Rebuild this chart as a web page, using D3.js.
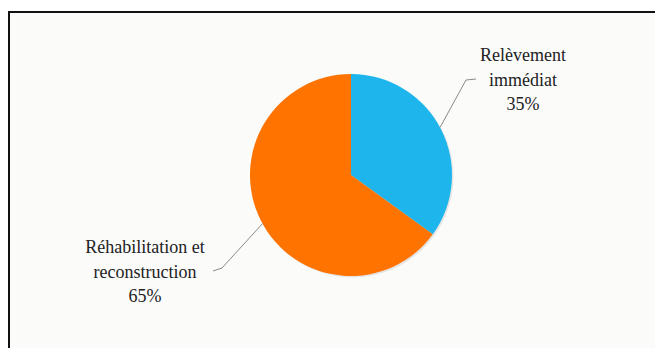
<!DOCTYPE html>
<html><head><meta charset="utf-8">
<script src="https://cdn.jsdelivr.net/npm/d3@7"></script>
<style>html,body{margin:0;padding:0;background:#fff;}svg{display:block;}</style>
</head><body>
<svg id="c" width="655" height="348"></svg>
<script>
const categories = ["Relèvement immédiat", "Réhabilitation et reconstruction"];
const values = [35, 65];
const labelLines = [["Relèvement", "immédiat", "35%"], ["Réhabilitation et", "reconstruction", "65%"]];
const colors = ["#1DB5EC", "#FF7300"];

const svg = d3.select("#c");
svg.append("rect").attr("x", 0).attr("y", 0).attr("width", 655).attr("height", 348).attr("fill", "#fff");
svg.append("rect").attr("x", 9).attr("y", 12).attr("width", 660).attr("height", 350)
  .attr("fill", "#fbfbfa").attr("stroke", "#111").attr("stroke-width", 2);

const cx = 351, cy = 175, r = 101;
const pie = d3.pie().sort(null).value(d => d)(values);
const arc = d3.arc().innerRadius(0).outerRadius(r);
const g = svg.append("g").attr("transform", `translate(${cx},${cy})`);
g.append("circle").attr("r", r).attr("cx", 1.5).attr("cy", 1.5).attr("fill", "#d8d8d8").attr("opacity", 0.6);
g.selectAll("path.s").data(pie).enter().append("path").attr("class", "s")
  .attr("d", arc).attr("fill", (d, i) => colors[i]);

// leader lines
const pt = a => [cx + r * Math.sin(a), cy - r * Math.cos(a)];
const leaders = [
  [pt(1.08), [466, 80], [476, 79]],
  [pt(4.21), [222, 268], [213, 271]]
];
const line = d3.line();
svg.selectAll("path.l").data(leaders).enter().append("path").attr("class", "l")
  .attr("d", d => line(d)).attr("fill", "none").attr("stroke", "#8a8a8a").attr("stroke-width", 1);

const labelPos = [[523, 61], [145, 253]];
labelLines.forEach((lines, i) => {
  const t = svg.append("text").attr("text-anchor", "middle")
    .attr("font-family", "Liberation Serif, Times New Roman, serif").attr("font-size", 18)
    .attr("fill", "#222");
  lines.forEach((s, j) => {
    t.append("tspan").attr("x", labelPos[i][0]).attr("y", labelPos[i][1] + j * 24.5).text(s);
  });
});
</script>
</body></html>
